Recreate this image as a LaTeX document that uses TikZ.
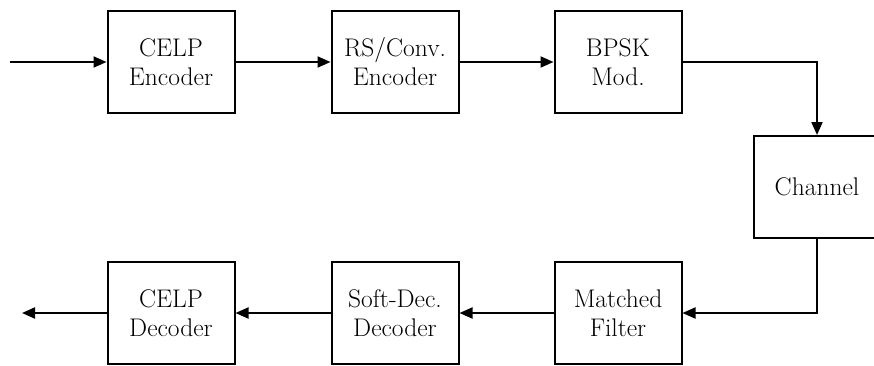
\documentclass[tikz,border=0pt]{standalone}
\usetikzlibrary{arrows.meta}
\begin{document}
\begin{tikzpicture}[x=1pt,y=1pt,
  blk/.style={draw, line width=2pt, minimum width=127pt, minimum height=102pt,
    align=center, inner sep=2pt, font=\fontsize{25.5}{29}\selectfont},
  conn/.style={line width=2pt, -{Triangle[length=13pt,width=11pt]}}]
\useasboundingbox (0,0) rectangle (874,365);
\clip (0,0) rectangle (874,365);
\node[blk] (enc) at (171,303) {CELP\\Encoder};
\node[blk] (rs) at (395,303) {RS/Conv.\\Encoder};
\node[blk] (bpsk) at (618,303) {BPSK\\Mod.};
\node[blk] (ch) at (817,178) {Channel};
\node[blk] (mf) at (618,52) {Matched\\Filter};
\node[blk] (sd) at (395,52) {Soft-Dec.\\Decoder};
\node[blk] (dec) at (171,52) {CELP\\Decoder};
\coordinate (in) at (10,303);
\coordinate (out) at (22,52);
\draw[conn] (in) -- (enc.west);
\draw[conn] (enc) -- (rs);
\draw[conn] (rs) -- (bpsk);
\draw[conn] (bpsk.east) -| (ch.north);
\draw[conn] (ch.south) |- (mf.east);
\draw[conn] (mf) -- (sd);
\draw[conn] (sd) -- (dec);
\draw[conn] (dec.west) -- (out);
\end{tikzpicture}
\end{document}
